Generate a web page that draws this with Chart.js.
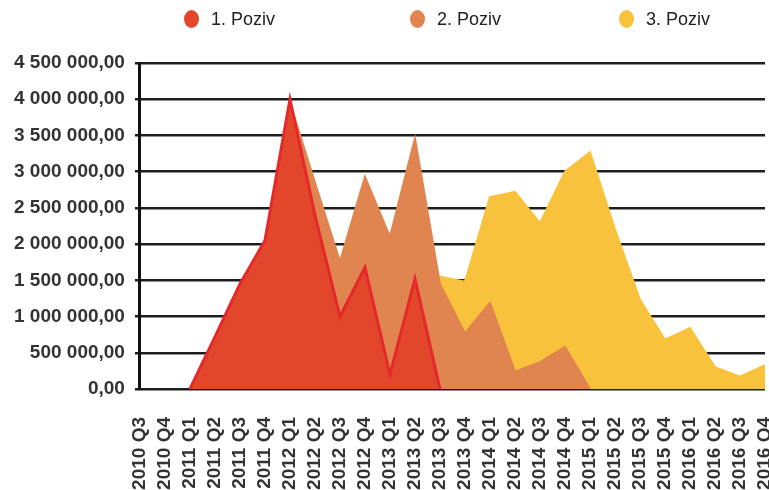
<!DOCTYPE html>
<html>
<head>
<meta charset="utf-8">
<script src="https://cdn.jsdelivr.net/npm/chart.js@4"></script>
<style>
  body { margin: 0; background: #fff; }
  #wrap { position: relative; width: 769px; height: 490px; overflow: hidden; }
  #legend { position: absolute; top: 7px; left: 0; width: 769px; height: 24px;
    font-family: "Liberation Sans", Arial, sans-serif; font-size: 18px; color: #222; }
  .item { position: absolute; top: 0; display: flex; align-items: center; height: 24px; }
  .dot { width: 15px; height: 18px; border-radius: 50%; margin-right: 12px; }
</style>
</head>
<body>
<div id="wrap">
  <canvas id="chart" width="769" height="490"></canvas>
  <div id="legend"></div>
</div>
<script>
const quarters = [
  '2010 Q3', '2010 Q4',
  '2011 Q1', '2011 Q2', '2011 Q3', '2011 Q4',
  '2012 Q1', '2012 Q2', '2012 Q3', '2012 Q4',
  '2013 Q1', '2013 Q2', '2013 Q3', '2013 Q4',
  '2014 Q1', '2014 Q2', '2014 Q3', '2014 Q4',
  '2015 Q1', '2015 Q2', '2015 Q3', '2015 Q4',
  '2016 Q1', '2016 Q2', '2016 Q3', '2016 Q4'
];

const seriesNames = ['1. Poziv', '2. Poziv', '3. Poziv'];

const poziv1 = [null, null, 0, 720000, 1450000, 2050000, 4000000, 2400000, 1000000, 1680000,
  200000, 1520000, 0, null, null, null, null, null, null, null, null, null, null, null, null, null];

const poziv2 = [null, null, 0, 600000, 1300000, 1900000, 3950000, 2850000, 1760000, 2930000,
  2100000, 3460000, 1450000, 770000, 1190000, 240000, 370000, 580000, 0, null, null, null, null, null, null, null];

const poziv3 = [null, null, null, null, null, null, null, null, null, null,
  null, 0, 1550000, 1480000, 2650000, 2720000, 2290000, 3000000, 3270000, 2200000,
  1230000, 680000, 840000, 300000, 170000, 330000];

const fills = ['#e2472c', '#e0854f', '#f9c23d'];
const borders = ['#e5292a', '#e0854f', '#f9c23d'];

function fmt(v) {
  const s = Math.round(v).toString().replace(/\B(?=(\d{3})+(?!\d))/g, ' ');
  return s + ',00';
}

const chart = new Chart(document.getElementById('chart'), {
  type: 'line',
  data: {
    labels: quarters,
    datasets: [poziv1, poziv2, poziv3].map((d, i) => ({
      label: seriesNames[i],
      data: d,
      fill: 'origin',
      backgroundColor: fills[i],
      borderColor: borders[i],
      borderWidth: i === 0 ? 3 : 2,
      tension: 0,
      pointRadius: 0,
      borderJoinStyle: 'miter'
    }))
  },
  options: {
    responsive: false,
    animation: false,
    devicePixelRatio: 1,
    layout: { padding: { top: 63, right: 4, left: 4, bottom: 0 } },
    plugins: {
      legend: { display: false },
      tooltip: { enabled: false }
    },
    scales: {
      x: {
        offset: false,
        grid: { display: false },
        border: { display: false },
        afterFit: s => { s.paddingRight = 0; s.paddingLeft = 0; s.height = 101; },
        ticks: {
          autoSkip: false,
          minRotation: 90,
          maxRotation: 90,
          padding: 20,
          color: '#333',
          font: { family: '"Liberation Sans", Arial, sans-serif', size: 19, weight: 'bold' }
        }
      },
      y: {
        min: 0,
        max: 4500000,
        afterFit: s => { s.paddingTop = 0; },
        grid: { color: '#1e1e1e', lineWidth: 2.5, tickLength: 5 },
        border: { color: '#111', width: 3 },
        ticks: {
          stepSize: 500000,
          padding: 10,
          color: '#333',
          callback: v => fmt(v),
          font: { family: '"Liberation Sans", Arial, sans-serif', size: 19, weight: 'bold' }
        }
      }
    }
  }
});

// legend as html, above the plot area
const legendPos = [184, 410, 619];
const legend = document.getElementById('legend');
chart.data.datasets.forEach((ds, i) => {
  const item = document.createElement('div');
  item.className = 'item';
  item.style.left = legendPos[i] + 'px';
  item.innerHTML = '<span class="dot" style="background:' + ds.backgroundColor + '"></span>' + ds.label;
  legend.appendChild(item);
});
</script>
</body>
</html>
